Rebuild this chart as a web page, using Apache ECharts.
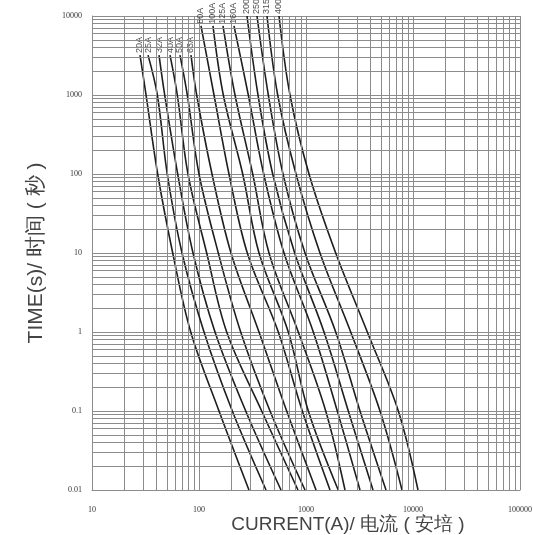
<!DOCTYPE html>
<html>
<head>
<meta charset="utf-8">
<script src="https://cdn.jsdelivr.net/npm/echarts@6/dist/echarts.min.js"></script>
<style>
html,body{margin:0;padding:0;background:#fff;}
#chart{width:533px;height:535px;}
</style>
</head>
<body>
<div id="chart"></div>
<script>
// Ratings (curve labels)
const ratings = ['20A','25A','32A','40A','50A','63A','80A','100A','125A','160A','200A','250A','315A','400A'];
// Time points (s) for each group of curves, from top of curve downwards
const timesA = [3200, 1000, 100, 10, 1, 0.1, 0.01];   // 20A - 63A
const timesB = [7500, 1000, 100, 10, 1, 0.1, 0.01];   // 80A - 160A
const timesC = [10000, 1000, 100, 10, 1, 0.1, 0.01];  // 200A - 400A
// Currents (A) read at those times
const i20A  = [28.1, 32, 41.1, 56.8, 83.7, 153.8, 293];
const i25A  = [33.4, 40.8, 50.5, 69.4, 111.4, 204.8, 423];
const i32A  = [42.3, 47.8, 63.2, 87.9, 141.1, 273.2, 584];
const i40A  = [53.6, 62.7, 78.9, 118, 181.5, 385.5, 841];
const i50A  = [66.4, 77.8, 100, 151.5, 245.3, 461, 979];
const i63A  = [84.2, 95.1, 132.3, 199.1, 363.8, 660, 1241];
const i80A  = [104.4, 138.1, 190.7, 282.8, 551, 923.6, 1676];
const i100A = [135.1, 168.7, 256.1, 363.8, 683, 1051, 2000];
const i125A = [167.6, 217, 317.7, 451, 847, 1528, 2315];
const i160A = [212.4, 288.9, 402.4, 623, 1170, 1961, 3196];
const i200A = [280.9, 356, 488.5, 784, 1473, 2485, 4229];
const i250A = [348.4, 444.4, 609.5, 979, 1895, 3196, 5595];
const i315A = [432, 543.9, 806, 1351, 2617, 4916, 7892];
const i400A = [559.4, 708.8, 1067, 1895, 3741, 7289, 11135];
// Axis tick labels
const xTicks = [10, 100, 1000, 10000, 100000];
const yTicks = [0.01, 0.1, 1, 10, 100, 1000, 10000];

const curveCurrents = [i20A,i25A,i32A,i40A,i50A,i63A,i80A,i100A,i125A,i160A,i200A,i250A,i315A,i400A];
const curveTimes = [timesA,timesA,timesA,timesA,timesA,timesA,timesB,timesB,timesB,timesB,timesC,timesC,timesC,timesC];

const gridColor = '#8c8c8c';
// minor grid positions (2..9 within each decade)
const xMinor = [], yMinor = [];
for (let d = 0; d < xTicks.length - 1; d++) for (let k = 2; k <= 9; k++) xMinor.push(+(xTicks[d] * k).toPrecision(6));
for (let d = 0; d < yTicks.length - 1; d++) for (let k = 2; k <= 9; k++) yMinor.push(+(yTicks[d] * k).toPrecision(6));

const series = [];
series.push({
  type: 'line', data: [], silent: true, animation: false,
  markLine: {
    silent: true, animation: false, symbol: ['none','none'],
    label: {show: false},
    lineStyle: {color: gridColor, width: 1, type: 'solid'},
    emphasis: {disabled: true},
    data: xMinor.map(v => ({xAxis: v})).concat(yMinor.map(v => ({yAxis: v})))
  }
});
ratings.forEach((r, idx) => {
  series.push({
    name: r, type: 'line', smooth: 0.35, symbol: 'none', animation: false,
    lineStyle: {color: '#1e1e1e', width: 1.6},
    data: curveTimes[idx].map((t, j) => [curveCurrents[idx][j], t])
  });
});
series.push({
  type: 'scatter', symbolSize: 0, animation: false, silent: true, clip: false,
  data: ratings.map((r, idx) => [curveCurrents[idx][0], curveTimes[idx][0]]),
  label: {
    show: true, position: 'top', distance: 2, rotate: 90, align: 'left', verticalAlign: 'middle',
    fontSize: 9, fontFamily: 'Liberation Sans, Arial, sans-serif', color: '#222',
    formatter: p => ratings[p.dataIndex]
  }
});

const chart = echarts.init(document.getElementById('chart'), null, {renderer: 'canvas'});
chart.setOption({
  backgroundColor: '#fff',
  animation: false,
  grid: {left: 92, right: 13, top: 16, bottom: 45, containLabel: false, outerBoundsMode: 'none'},
  xAxis: {
    type: 'log', logBase: 10, min: 10, max: 100000,
    name: 'CURRENT(A)/ 电流 ( 安培 )', nameLocation: 'middle', nameGap: 25, nameMoveOverlap: false,
    nameTextStyle: {fontSize: 19, color: '#444', fontFamily: 'Liberation Sans, Arial, sans-serif', padding: [0,0,0,84]},
    axisLine: {lineStyle: {color: gridColor, width: 1}},
    axisTick: {show: false},
    axisLabel: {margin: 16, fontSize: 8, color: '#333', fontFamily: 'Liberation Serif, Times New Roman, serif',
      formatter: v => String(v)},
    splitLine: {show: true, lineStyle: {color: gridColor, width: 1}}
  },
  yAxis: {
    type: 'log', logBase: 10, min: 0.01, max: 10000,
    name: 'TIME(s)/ 时间 ( 秒 )', nameLocation: 'middle', nameGap: 45, nameRotate: 90, nameMoveOverlap: false,
    nameTextStyle: {fontSize: 21, color: '#444', fontFamily: 'Liberation Sans, Arial, sans-serif'},
    axisLine: {show: true, lineStyle: {color: gridColor, width: 1}},
    axisTick: {show: false},
    axisLabel: {margin: 10, fontSize: 8, color: '#333', fontFamily: 'Liberation Serif, Times New Roman, serif',
      formatter: v => String(v)},
    splitLine: {show: true, lineStyle: {color: gridColor, width: 1}}
  },
  series: series
});
</script>
</body>
</html>
